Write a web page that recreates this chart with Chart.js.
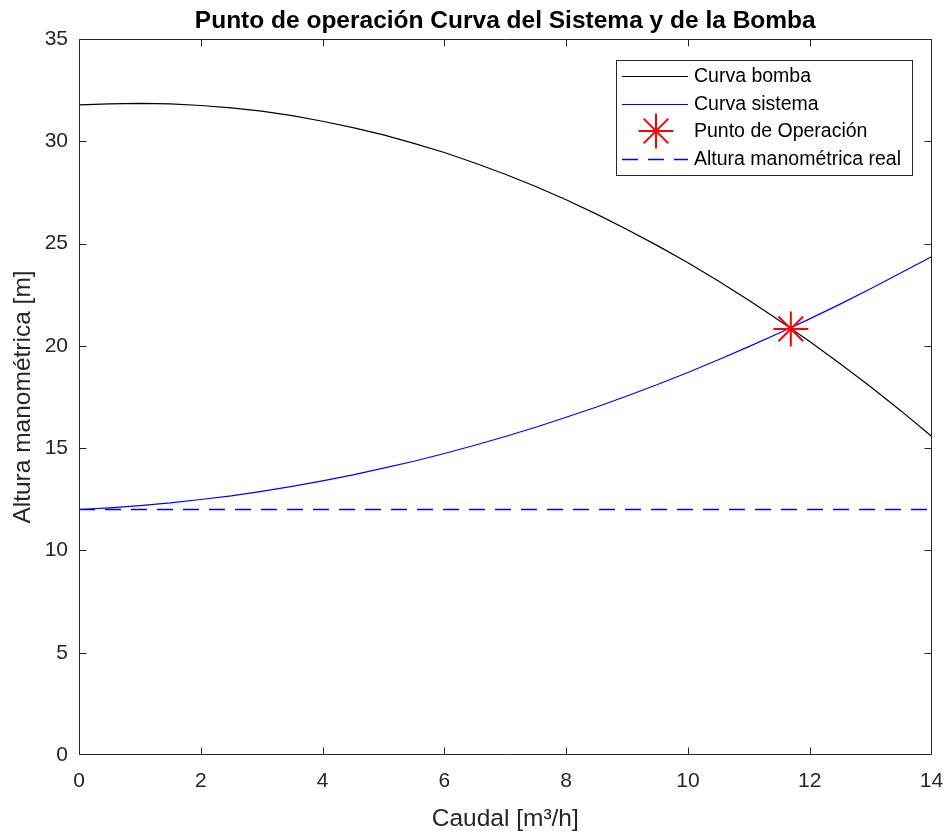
<!DOCTYPE html>
<html>
<head>
<meta charset="utf-8">
<script src="https://cdn.jsdelivr.net/npm/chart.js@4.4.1/dist/chart.umd.min.js"></script>
<style>
  html, body { margin: 0; padding: 0; background: #ffffff; }
  #wrap { width: 951px; height: 838px; }
</style>
</head>
<body>
<div id="wrap"><canvas id="c" width="951" height="838"></canvas></div>
<script>
// ---- Data ----
const caudal = [0, 0.5, 1, 1.5, 2, 2.5, 3, 3.5, 4, 4.5, 5, 5.5, 6, 6.5, 7, 7.5, 8, 8.5, 9, 9.5, 10, 10.5, 11, 11.5, 12, 12.5, 13, 13.5, 14];
const alturaBomba = [31.78, 31.83, 31.85, 31.83, 31.75, 31.63, 31.47, 31.25, 30.98, 30.67, 30.31, 29.90, 29.45, 28.94, 28.39, 27.79, 27.14, 26.44, 25.69, 24.90, 24.06, 23.17, 22.23, 21.24, 20.21, 19.13, 18.00, 16.82, 15.58];
const alturaSistema = [12.00, 12.08, 12.19, 12.32, 12.49, 12.67, 12.89, 13.13, 13.40, 13.69, 14.02, 14.36, 14.74, 15.14, 15.57, 16.02, 16.51, 17.01, 17.55, 18.11, 18.70, 19.32, 19.96, 20.63, 21.32, 22.04, 22.79, 23.57, 24.36];
const puntoOperacion = { q: 11.69, h: 20.83 };
const alturaReal = 12;
const xRango = [0, 14];
const yRango = [0, 35];
const xPaso = 2;
const yPaso = 5;
const etiquetas = ['Curva bomba', 'Curva sistema', 'Punto de Operación', 'Altura manométrica real'];
const titulo = 'Punto de operación Curva del Sistema y de la Bomba';
const tituloX = 'Caudal [m³/h]';
const tituloY = 'Altura manométrica [m]';

const FONT = "'Liberation Sans', Arial, Helvetica, sans-serif";
const AXC = '#262626';
const AZUL = 'rgb(0,0,255)';

const toXY = (xs, ys) => xs.map((x, i) => ({ x: x, y: ys[i] }));

const boxPlugin = {
  id: 'boxTicks',
  afterDraw(chart) {
    const ctx = chart.ctx;
    const a = chart.chartArea;
    const L = Math.round(a.left) + 0.5, R = Math.round(a.right) - 0.5;
    const T = Math.round(a.top) + 0.5, B = Math.round(a.bottom) - 0.5;
    const clamp = (v, lo, hi) => Math.min(Math.max(v, lo), hi);
    ctx.save();
    ctx.strokeStyle = AXC;
    ctx.lineWidth = 1;
    ctx.beginPath();
    ctx.rect(L, T, R - L, B - T);
    ctx.stroke();
    const tl = 7;
    ctx.beginPath();
    chart.scales.x.ticks.forEach(t => {
      const px = clamp(Math.round(chart.scales.x.getPixelForValue(t.value)) + 0.5, L, R);
      ctx.moveTo(px, B); ctx.lineTo(px, B - tl);
      ctx.moveTo(px, T); ctx.lineTo(px, T + tl);
    });
    chart.scales.y.ticks.forEach(t => {
      const py = clamp(Math.round(chart.scales.y.getPixelForValue(t.value)) + 0.5, T, B);
      ctx.moveTo(L, py); ctx.lineTo(L + tl, py);
      ctx.moveTo(R, py); ctx.lineTo(R - tl, py);
    });
    ctx.stroke();

    // Legend box (inside axes, north-east)
    const lx = 616.5, ly = 60.5, lw = 296, lh = 115;
    ctx.fillStyle = '#ffffff';
    ctx.fillRect(lx, ly, lw, lh);
    ctx.strokeStyle = AXC;
    ctx.strokeRect(lx, ly, lw, lh);
    const rows = [76, 103.5, 131, 158.5];
    const ds = chart.data.datasets;
    ctx.font = '19.5px ' + FONT;
    ctx.textBaseline = 'middle';
    ctx.textAlign = 'left';
    ds.forEach((d, i) => {
      const y = rows[i];
      ctx.save();
      if (d.showLine === false) {
        ctx.strokeStyle = d.pointBorderColor;
        ctx.lineWidth = d.pointBorderWidth;
        const cx = 656, r = d.pointRadius;
        ctx.beginPath();
        for (let k = 0; k < 4; k++) {
          const ang = k * Math.PI / 4;
          ctx.moveTo(cx - r * Math.cos(ang), y - r * Math.sin(ang));
          ctx.lineTo(cx + r * Math.cos(ang), y + r * Math.sin(ang));
        }
        ctx.stroke();
      } else {
        ctx.strokeStyle = d.borderColor;
        ctx.lineWidth = d.borderWidth;
        ctx.setLineDash(d.borderDash || []);
        ctx.beginPath();
        ctx.moveTo(622, Math.round(y) + 0.5);
        ctx.lineTo(688, Math.round(y) + 0.5);
        ctx.stroke();
      }
      ctx.restore();
      ctx.fillStyle = '#000000';
      ctx.fillText(d.label, 694, y + 1);
    });
    ctx.restore();
  }
};

const chart = new Chart(document.getElementById('c'), {
  type: 'line',
  data: {
    datasets: [
      {
        label: etiquetas[0],
        data: toXY(caudal, alturaBomba),
        borderColor: '#000000',
        borderWidth: 1.2,
        pointRadius: 0,
        tension: 0,
        order: 3
      },
      {
        label: etiquetas[1],
        data: toXY(caudal, alturaSistema),
        borderColor: AZUL,
        borderWidth: 1.2,
        pointRadius: 0,
        tension: 0,
        order: 2
      },
      {
        label: etiquetas[2],
        data: [{ x: puntoOperacion.q, y: puntoOperacion.h }],
        showLine: false,
        pointStyle: 'star',
        pointRadius: 17.5,
        pointBorderColor: '#ff0000',
        pointBackgroundColor: '#ff0000',
        pointBorderWidth: 2,
        borderColor: '#ff0000',
        order: 0
      },
      {
        label: etiquetas[3],
        data: [{ x: xRango[0], y: alturaReal }, { x: xRango[1], y: alturaReal }],
        borderColor: AZUL,
        backgroundColor: AZUL,
        borderWidth: 1.6,
        borderDash: [16, 10],
        pointRadius: 0,
        order: 1
      }
    ]
  },
  options: {
    responsive: false,
    animation: false,
    events: [],
    layout: { padding: { left: 0, right: 18, top: 0, bottom: 0 } },
    plugins: {
      legend: { display: false },
      tooltip: { enabled: false },
      title: {
        display: true,
        text: titulo,
        fullSize: false,
        color: '#000000',
        font: { family: FONT, size: 24.5, weight: 'bold', lineHeight: 1.2 },
        padding: { top: 7, bottom: 2.6 }
      }
    },
    scales: {
      x: {
        type: 'linear',
        min: xRango[0],
        max: xRango[1],
        afterFit: s => { s.height = 83; s.paddingLeft = 0; s.paddingRight = 0; },
        grid: { display: false, drawTicks: false },
        border: { display: false },
        ticks: {
          stepSize: xPaso,
          color: AXC,
          padding: 14,
          maxRotation: 0,
          font: { family: FONT, size: 21 }
        },
        title: {
          display: true,
          text: tituloX,
          color: AXC,
          font: { family: FONT, size: 24.5, lineHeight: 1.2 },
          padding: { top: 0, bottom: 4 }
        }
      },
      y: {
        type: 'linear',
        min: yRango[0],
        max: yRango[1],
        afterFit: s => { s.width = 79; s.paddingTop = 0; s.paddingBottom = 0; },
        grid: { display: false, drawTicks: false },
        border: { display: false },
        ticks: {
          stepSize: yPaso,
          color: AXC,
          padding: 11,
          font: { family: FONT, size: 21 }
        },
        title: {
          display: true,
          text: tituloY,
          color: AXC,
          font: { family: FONT, size: 24.5, lineHeight: 1.2 },
          padding: { top: 9, bottom: 0 }
        }
      }
    }
  },
  plugins: [boxPlugin]
});
</script>
</body>
</html>
